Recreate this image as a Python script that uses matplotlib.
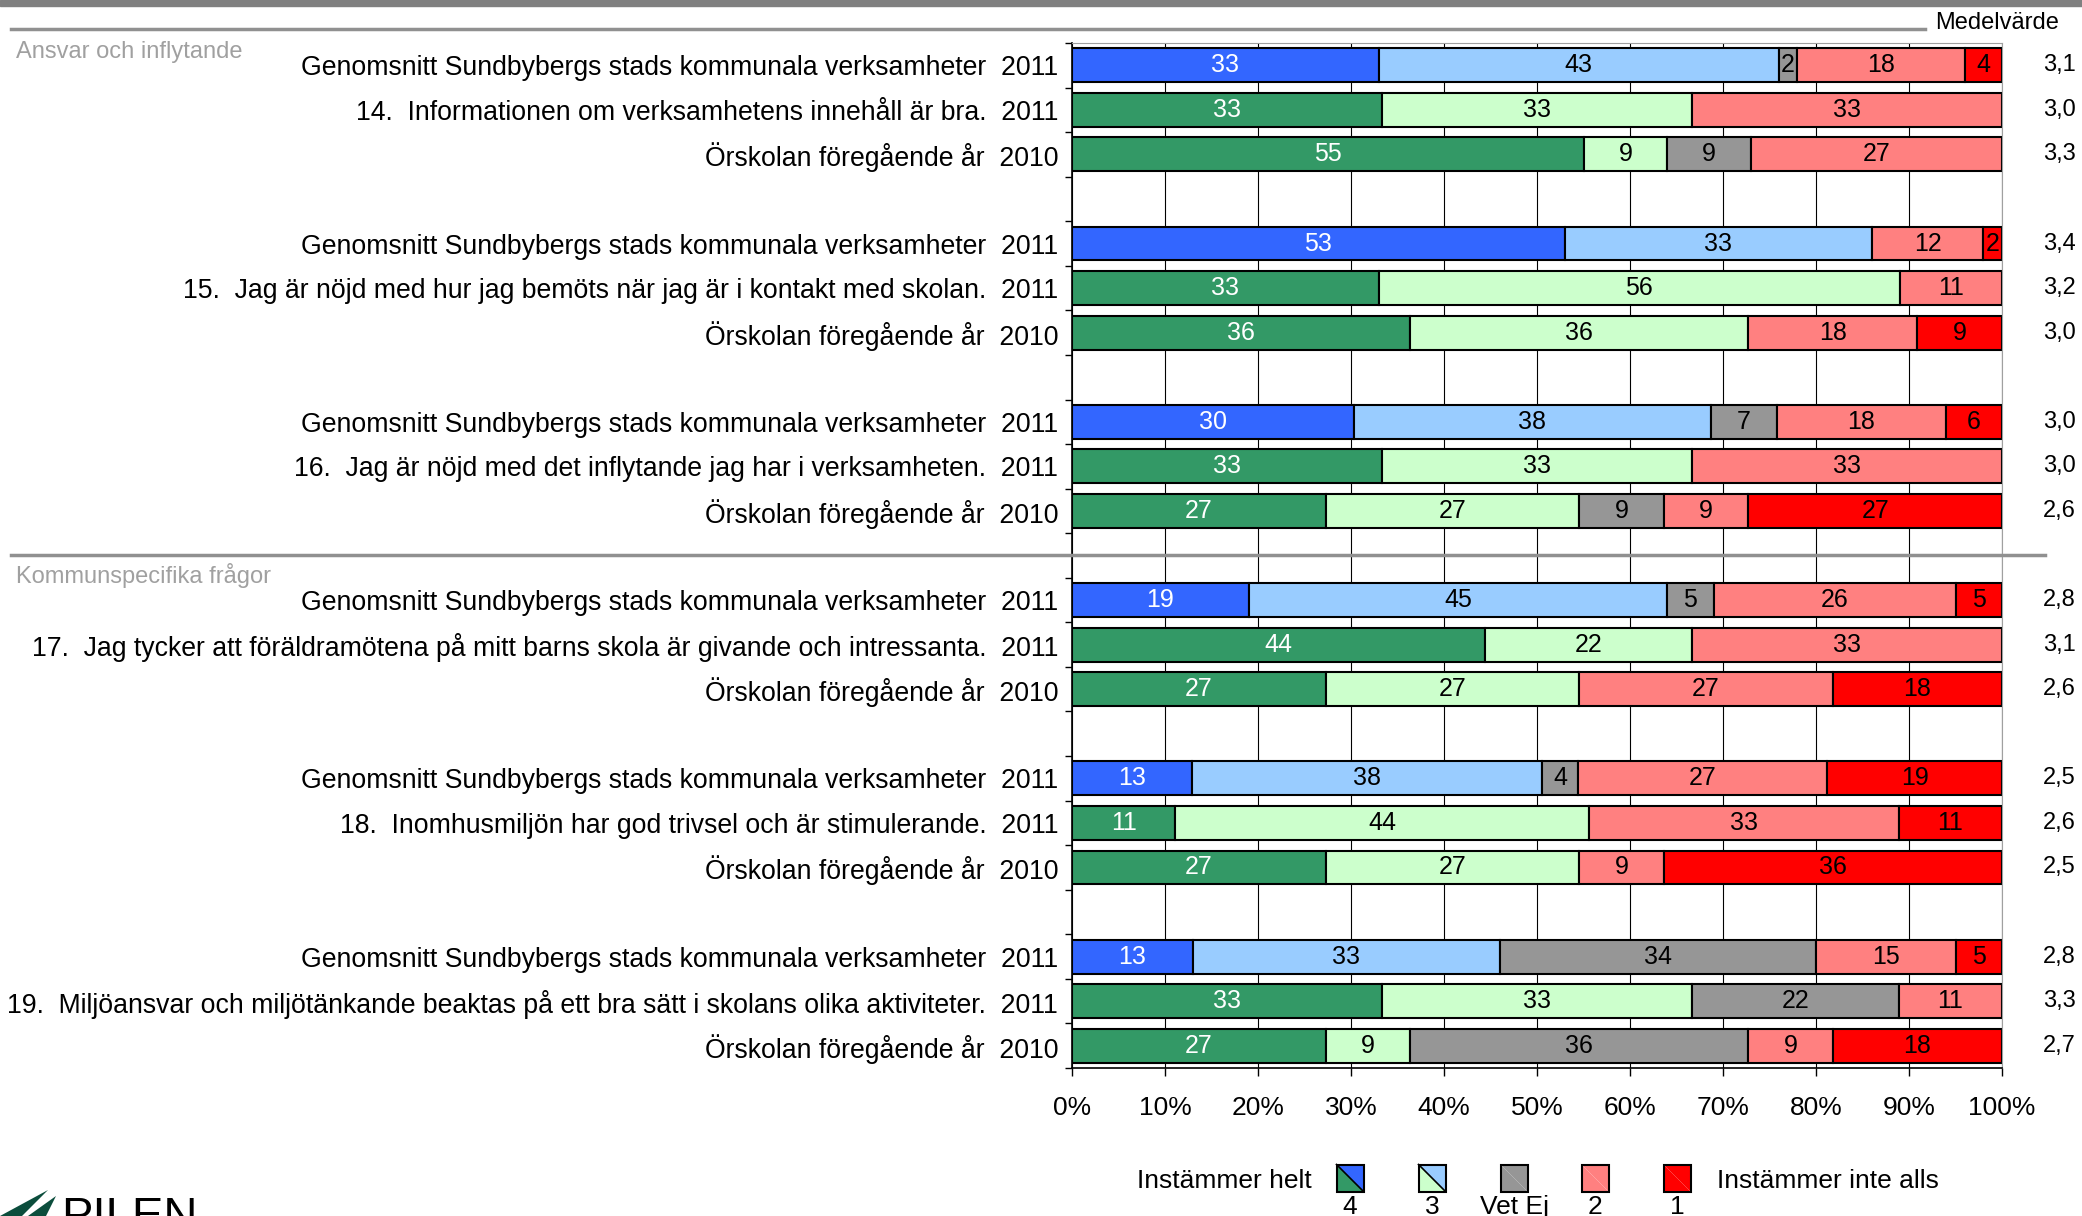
import matplotlib
matplotlib.use("Agg")
import matplotlib.pyplot as plt
import numpy as np
from matplotlib.patches import Rectangle, Polygon
from matplotlib.lines import Line2D

plt.rcParams['font.family'] = ['Liberation Sans', 'DejaVu Sans']

W, H = 2082, 1216

QUESTIONS = [
    "14.  Informationen om verksamhetens innehåll är bra.",
    "15.  Jag är nöjd med hur jag bemöts när jag är i kontakt med skolan.",
    "16.  Jag är nöjd med det inflytande jag har i verksamheten.",
    "17.  Jag tycker att föräldramötena på mitt barns skola är givande och intressanta.",
    "18.  Inomhusmiljön har god trivsel och är stimulerande.",
    "19.  Miljöansvar och miljötänkande beaktas på ett bra sätt i skolans olika aktiviteter.",
]
AVG_LABEL = "Genomsnitt Sundbybergs stads kommunala verksamheter"
PREV_LABEL = "Örskolan föregående år"
YEARS = ["2011", "2011", "2010"]

# answer shares (%) per row, 3 rows per question
HELT = [33, 33, 55, 53, 33, 36, 30, 33, 27, 19, 44, 27, 13, 11, 27, 13, 33, 27]
TRE = [43, 33, 9, 33, 56, 36, 38, 33, 27, 45, 22, 27, 38, 44, 27, 33, 33, 9]
VETEJ = [2, 0, 9, 0, 0, 0, 7, 0, 9, 5, 0, 0, 4, 0, 0, 34, 22, 36]
TVA = [18, 33, 27, 12, 11, 18, 18, 33, 9, 26, 33, 27, 27, 33, 9, 15, 11, 9]
ETT = [4, 0, 0, 2, 0, 9, 6, 0, 27, 5, 0, 18, 19, 11, 36, 5, 0, 18]
MEANS = ["3,1", "3,0", "3,3", "3,4", "3,2", "3,0", "3,0", "3,0", "2,6",
         "2,8", "3,1", "2,6", "2,5", "2,6", "2,5", "2,8", "3,3", "2,7"]

BLUE, LBLUE = "#3366FF", "#99CCFF"
GREEN, LGREEN = "#339966", "#CCFFCC"
GRAY, PINK, RED = "#969696", "#FF8080", "#FF0000"


def px(x, y):
    return x / W, 1 - y / H


fig = plt.figure(figsize=(W / 100, H / 100), dpi=100)
ax = fig.add_axes([1072 / W, 1 - 1068 / H, 930 / W, 1025 / H])

slots, labels = [], []
for g, q in enumerate(QUESTIONS):
    for r, name in enumerate([AVG_LABEL, q, PREV_LABEL]):
        slots.append(g * 4 + r)
        labels.append(name + "  " + YEARS[r])

data = np.array([HELT, TRE, VETEJ, TVA, ETT], dtype=float)
widths = data / data.sum(axis=0) * 100
lefts = np.vstack([np.zeros(len(slots)), np.cumsum(widths, axis=0)[:-1]])

for i, s in enumerate(slots):
    avg = (i % 3 == 0)
    cols = [BLUE if avg else GREEN, LBLUE if avg else LGREEN, GRAY, PINK, RED]
    for k in range(5):
        if data[k, i] == 0:
            continue
        ax.barh(s, widths[k, i], left=lefts[k, i], height=0.76, color=cols[k],
                edgecolor="black", linewidth=1.5, zorder=2)
        ax.text(lefts[k, i] + widths[k, i] / 2, s, str(int(data[k, i])),
                ha="center", va="center", fontsize=18,
                color="white" if k == 0 else "black", zorder=3)
    ax.text(1.062, s, MEANS[i], transform=ax.get_yaxis_transform(),
            ha="center", va="center", fontsize=17)

ax.set_xlim(0, 100)
ax.set_ylim(22.5, -0.5)
ax.set_xticks(np.arange(0, 101, 10))
ax.set_xticklabels([f"{v}%" for v in range(0, 101, 10)], fontsize=19)
ax.set_yticks(slots)
ax.set_yticklabels(labels, fontsize=19.2)
ax.set_yticks(np.arange(-0.5, 23, 1), minor=True)
ax.tick_params(axis="y", which="major", length=0, pad=10)
ax.tick_params(axis="y", which="minor", length=5, width=1, direction="out")
ax.tick_params(axis="x", length=6, width=1, pad=14)
ax.xaxis.grid(True, color="black", linewidth=0.8)
ax.set_axisbelow(True)
ax.spines["top"].set_color("#a0a0a0")
ax.spines["right"].set_color("#a0a0a0")
ax.spines["left"].set_linewidth(1.2)
ax.spines["bottom"].set_linewidth(1.2)

# section separator between the two blocks
ax.plot([(11 - 1072) / 930, (2045 - 1072) / 930], [11, 11], color="#909090",
        linewidth=2.5, transform=ax.get_yaxis_transform(), clip_on=False, zorder=4)

# header decorations
fig.add_artist(Rectangle((0, 1 - 6 / H), 1, 6 / H, transform=fig.transFigure,
                         color="#808080"))
fig.add_artist(Line2D([11 / W, 1925 / W], [1 - 29 / H] * 2, color="#909090",
                      linewidth=2.5))
fig.text(*px(1997, 23), "Medelvärde", ha="center", va="center", fontsize=17)
fig.text(*px(16, 52), "Ansvar och inflytande", ha="left", va="center",
         fontsize=17, color="#a0a0a0")
fig.text(*px(16, 575), "Kommunspecifika frågor", ha="left", va="center",
         fontsize=17, color="#a0a0a0")

# legend
leg_x = [1350, 1432, 1514, 1595, 1677]
leg_names = ["4", "3", "Vet Ej", "2", "1"]
leg_pairs = [(BLUE, GREEN), (LBLUE, LGREEN), (GRAY, GRAY), (PINK, PINK), (RED, RED)]
sz = 27
ly = 1178
for x, name, (c1, c2) in zip(leg_x, leg_names, leg_pairs):
    x0, y0 = x - sz / 2, ly - sz / 2
    tl, tr, br, bl = px(x0, y0), px(x0 + sz, y0), px(x0 + sz, y0 + sz), px(x0, y0 + sz)
    fig.add_artist(Polygon([tl, tr, br], closed=True, facecolor=c1, edgecolor="none",
                           transform=fig.transFigure))
    fig.add_artist(Polygon([tl, br, bl], closed=True, facecolor=c2, edgecolor="none",
                           transform=fig.transFigure))
    if c1 != c2:
        fig.add_artist(Line2D([tl[0], br[0]], [tl[1], br[1]], color="black", linewidth=1.2))
    fig.add_artist(Rectangle(bl, sz / W, sz / H, transform=fig.transFigure,
                             facecolor="none", edgecolor="black", linewidth=1.5))
    fig.text(*px(x, 1214), name, ha="center", va="baseline", fontsize=19)
fig.text(*px(1312, 1181), "Instämmer helt", ha="right", va="center", fontsize=19)
fig.text(*px(1717, 1181), "Instämmer inte alls", ha="left", va="center", fontsize=19)

# logo, cut off at the bottom edge
fig.add_artist(Polygon([px(0, 1216), px(48, 1190), px(22, 1216)], closed=True,
                       facecolor="#0b4d3c", edgecolor="none", transform=fig.transFigure))
fig.add_artist(Polygon([px(28, 1216), px(56, 1196), px(46, 1216)], closed=True,
                       facecolor="#0b4d3c", edgecolor="none", transform=fig.transFigure))
fig.text(*px(61, 1196), "PILEN", ha="left", va="top", fontsize=34,
         fontweight="light", color="black")

fig.savefig("out.png", dpi=100)
